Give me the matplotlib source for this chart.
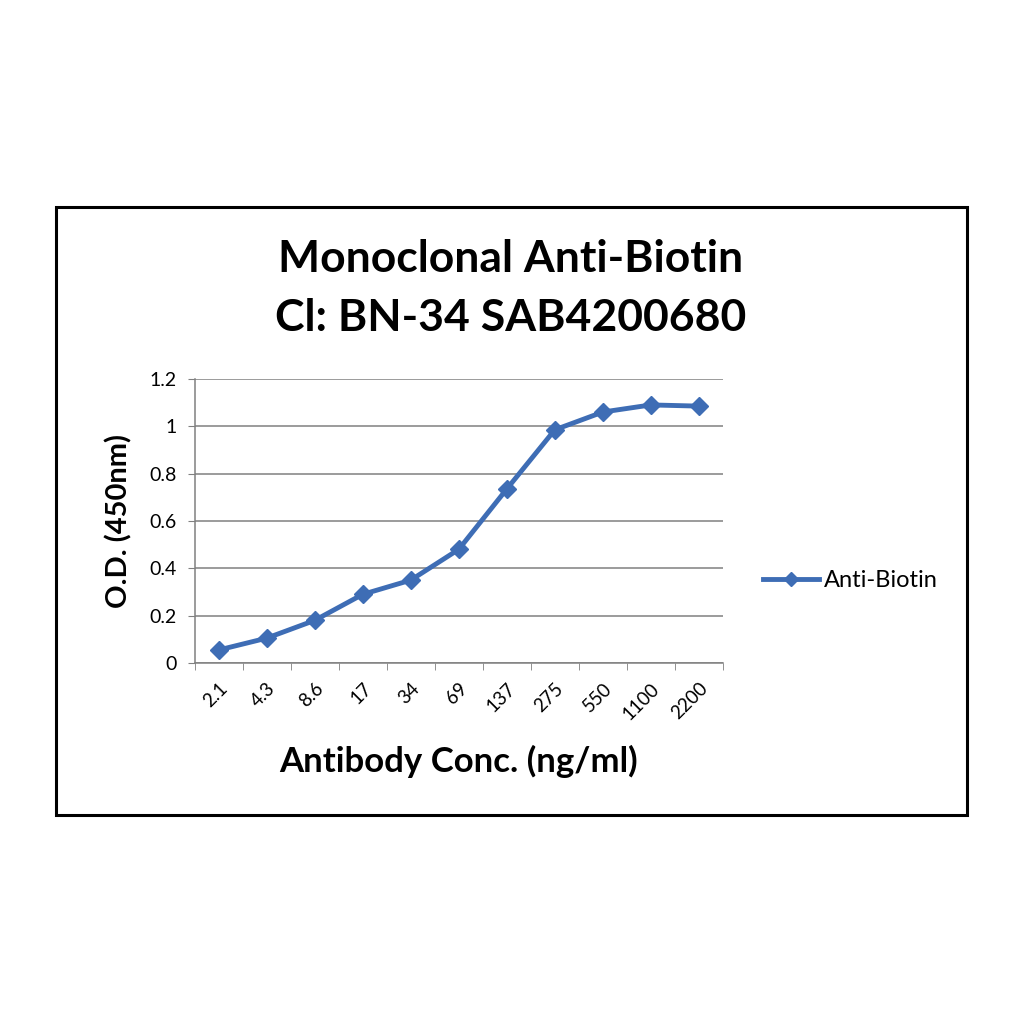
import numpy as np
import matplotlib as mpl
mpl.use('Agg')
import matplotlib.pyplot as plt
from matplotlib.patches import Rectangle

conc_labels = ['2.1', '4.3', '8.6', '17', '34', '69', '137', '275', '550', '1100', '2200']
od_values = [0.055, 0.105, 0.18, 0.29, 0.35, 0.48, 0.735, 0.985, 1.06, 1.09, 1.085]
y_ticks = [0, 0.2, 0.4, 0.6, 0.8, 1, 1.2]
y_tick_labels = ['0', '0.2', '0.4', '0.6', '0.8', '1', '1.2']

blue = '#3E6DB5'
plt.rcParams['font.family'] = ['Lato', 'DejaVu Sans']

fig = plt.figure(figsize=(10.24, 10.24), dpi=100)
fig.patches.append(Rectangle((0.0547, 0.204), 0.89, 0.594, transform=fig.transFigure,
                             fill=False, edgecolor='black', linewidth=2.2))

ax = fig.add_axes([0.190, 0.3525, 0.516, 0.2775])
x = np.arange(len(conc_labels))
ax.plot(x, od_values, color=blue, linewidth=3.5, marker='D', markersize=9,
        markerfacecolor=blue, markeredgecolor=blue, label='Anti-Biotin')

ax.set_xlim(-0.5, len(conc_labels) - 0.5)
ax.set_ylim(0, 1.2)
ax.set_yticks(y_ticks)
ax.set_yticklabels(y_tick_labels, fontsize=14)
ax.set_xticks(x)
ax.set_xticklabels(conc_labels, rotation=45, fontsize=13.5, ha='right',
                   rotation_mode='anchor')
ax.set_xticks(np.arange(len(conc_labels) + 1) - 0.5, minor=True)
ax.tick_params(axis='x', which='major', length=0, pad=12)
ax.tick_params(axis='x', which='minor', length=5, color='#808080', direction='out')
ax.tick_params(axis='y', length=5, color='#808080', direction='out', pad=8)
ax.yaxis.grid(True, color='#808080', linewidth=1.1)
ax.set_axisbelow(True)
for s in ['top', 'right']:
    ax.spines[s].set_visible(False)
for s in ['left', 'bottom']:
    ax.spines[s].set_color('#808080')
    ax.spines[s].set_linewidth(1.1)

ax.set_xlabel('Antibody Conc. (ng/ml)', fontsize=25, fontweight='bold', labelpad=16)
ax.set_ylabel('O.D. (450nm)', fontsize=21, fontweight='bold', labelpad=12)

fig.text(0.499, 0.747, 'Monoclonal Anti-Biotin', ha='center', va='center',
         fontsize=32, fontweight='bold')
fig.text(0.499, 0.689, 'Cl: BN-34 SAB4200680', ha='center', va='center',
         fontsize=32, fontweight='bold')

ax.legend(loc='center left', bbox_to_anchor=(1.035, 0.29), frameon=False,
          fontsize=17, handlelength=2.4, handletextpad=0.2, markerscale=0.8)

fig.savefig('out.png', dpi=100)
